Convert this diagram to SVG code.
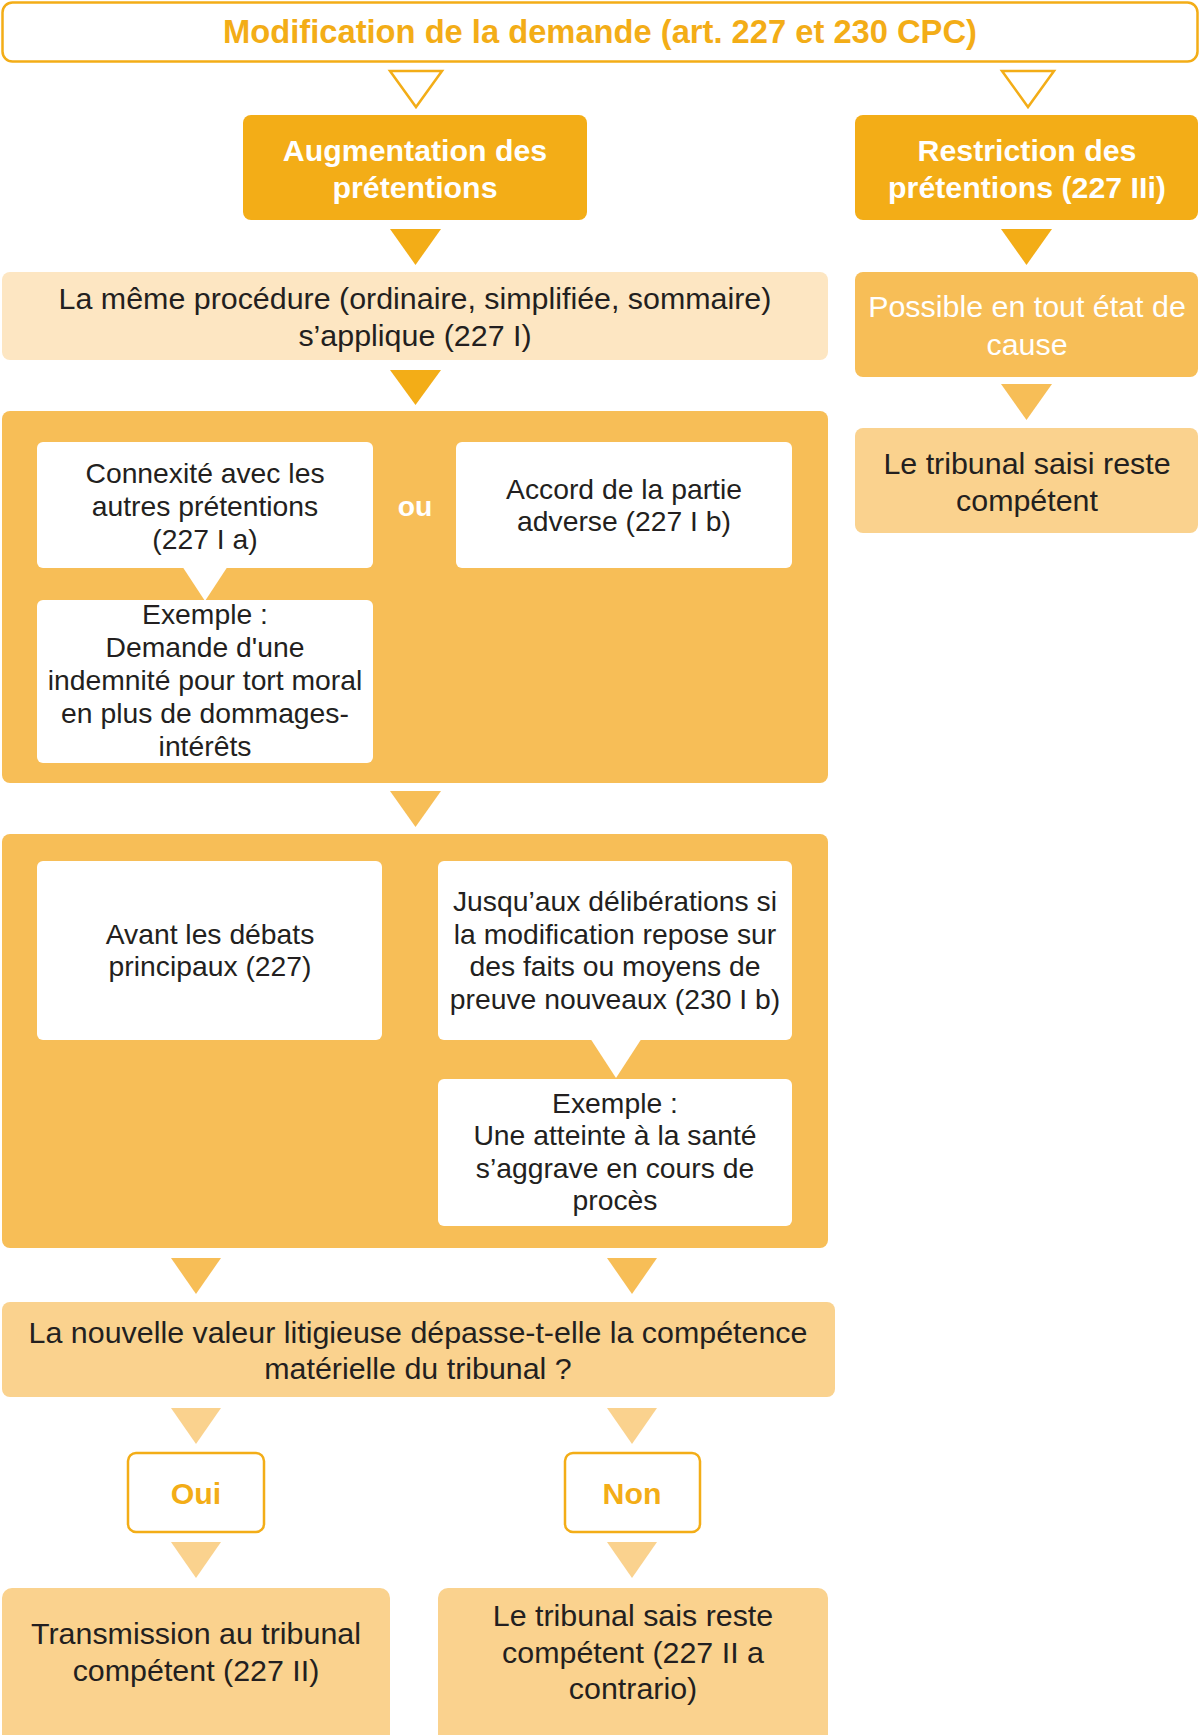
<svg xmlns="http://www.w3.org/2000/svg" width="1200" height="1735" viewBox="0 0 1200 1735">
<style>
text{font-family:"Liberation Sans",Arial,Helvetica,sans-serif;text-anchor:middle}
.t30{font-size:30.4px;fill:#231f20}
.t28{font-size:28.3px;fill:#231f20}
.w30b{font-size:30.3px;font-weight:bold;fill:#ffffff}
.w30{font-size:30.4px;fill:#ffffff}
.o30b{font-size:30.3px;font-weight:bold;fill:#f3ad17}
.dark{fill:#f3ad17}
.med{fill:#f7be57}
.light{fill:#fad28e}
.pale{fill:#fde6c2}
.white{fill:#ffffff}
.outline{fill:#ffffff;stroke:#f3ad17;stroke-width:2.5}
</style>
<rect width="1200" height="1735" fill="#ffffff"/>

<g id="title">
<rect class="outline" x="2.5" y="2.5" width="1195" height="59" rx="10"/>
<text x="600" y="43" style="font-size:32.7px;font-weight:bold;fill:#f3ad17">Modification de la demande (art. 227 et 230 CPC)</text>
</g>

<g id="connectors">
<polygon class="outline" points="390,71 442,71 416,107"/>
<polygon class="outline" points="1002,71 1054,71 1028,107"/>
<polygon class="dark" points="390,229 441,229 415.5,265"/>
<polygon class="dark" points="1001,229 1052,229 1026.5,265"/>
<polygon class="dark" points="390,370 441,370 415.5,405"/>
<polygon class="med" points="1001,384 1052,384 1026.5,420"/>
<polygon class="med" points="390,791 441,791 415.5,827"/>
<polygon class="med" points="171,1258 221,1258 196,1294"/>
<polygon class="med" points="607,1258 657,1258 632,1294"/>
<polygon class="light" points="171,1408 221,1408 196,1444"/>
<polygon class="light" points="607,1408 657,1408 632,1444"/>
<polygon class="light" points="171,1542 221,1542 196,1578"/>
<polygon class="light" points="607,1542 657,1542 632,1578"/>
</g>

<g id="augmentation">
<rect class="dark" x="243" y="115" width="344" height="105" rx="8"/>
<text class="w30b" x="415" y="161">Augmentation des</text>
<text class="w30b" x="415" y="198">prétentions</text>
</g>

<g id="restriction">
<rect class="dark" x="855" y="115" width="343" height="105" rx="8"/>
<text class="w30b" x="1027" y="161">Restriction des</text>
<text class="w30b" x="1027" y="198">prétentions (227 IIi)</text>
</g>

<g id="meme-procedure">
<rect class="pale" x="2" y="272" width="826" height="88" rx="8"/>
<text class="t30" x="415" y="309">La même procédure (ordinaire, simplifiée, sommaire)</text>
<text class="t30" x="415" y="346">s’applique (227 I)</text>
</g>

<g id="possible">
<rect class="med" x="855" y="272" width="343" height="105" rx="8"/>
<text class="w30" x="1027" y="317">Possible en tout état de</text>
<text class="w30" x="1027" y="355">cause</text>
</g>

<g id="tribunal-saisi">
<rect class="light" x="855" y="428" width="343" height="105" rx="8"/>
<text class="t30" x="1027" y="474">Le tribunal saisi reste</text>
<text class="t30" x="1027" y="511">compétent</text>
</g>

<g id="conditions">
<rect class="med" x="2" y="411" width="826" height="372" rx="8"/>
<g id="connexite">
<rect class="white" x="37" y="442" width="336" height="126" rx="6"/>
<text class="t28" x="205" y="483">Connexité avec les</text>
<text class="t28" x="205" y="516">autres prétentions</text>
<text class="t28" x="205" y="549">(227 I a)</text>
</g>
<polygon class="white" points="182,566 228,566 205,601"/>
<g id="exemple1">
<rect class="white" x="37" y="600" width="336" height="163" rx="6"/>
<text class="t28" x="205" y="624">Exemple :</text>
<text class="t28" x="205" y="657">Demande d'une</text>
<text class="t28" x="205" y="690">indemnité pour tort moral</text>
<text class="t28" x="205" y="723">en plus de dommages-</text>
<text class="t28" x="205" y="756">intérêts</text>
</g>
<text x="415" y="516" style="font-size:28.3px;font-weight:bold;fill:#ffffff">ou</text>
<g id="accord">
<rect class="white" x="456" y="442" width="336" height="126" rx="6"/>
<text class="t28" x="624" y="499">Accord de la partie</text>
<text class="t28" x="624" y="531">adverse (227 I b)</text>
</g>
</g>

<g id="delais">
<rect class="med" x="2" y="834" width="826" height="414" rx="8"/>
<g id="avant">
<rect class="white" x="37" y="861" width="345" height="179" rx="6"/>
<text class="t28" x="210" y="944">Avant les débats</text>
<text class="t28" x="210" y="976">principaux (227)</text>
</g>
<g id="jusqu-aux">
<rect class="white" x="438" y="861" width="354" height="179" rx="6"/>
<text class="t28" x="615" y="911">Jusqu’aux délibérations si</text>
<text class="t28" x="615" y="944">la modification repose sur</text>
<text class="t28" x="615" y="976">des faits ou moyens de</text>
<text class="t28" x="615" y="1009">preuve nouveaux (230 I b)</text>
</g>
<polygon class="white" points="590,1038 642,1038 616,1078"/>
<g id="exemple2">
<rect class="white" x="438" y="1079" width="354" height="147" rx="6"/>
<text class="t28" x="615" y="1113">Exemple :</text>
<text class="t28" x="615" y="1145">Une atteinte à la santé</text>
<text class="t28" x="615" y="1178">s’aggrave en cours de</text>
<text class="t28" x="615" y="1210">procès</text>
</g>
</g>

<g id="question">
<rect class="light" x="2" y="1302" width="833" height="95" rx="8"/>
<text class="t30" x="418" y="1343">La nouvelle valeur litigieuse dépasse-t-elle la compétence</text>
<text class="t30" x="418" y="1379">matérielle du tribunal ?</text>
</g>

<g id="oui">
<rect class="outline" x="128" y="1453" width="136" height="79" rx="8"/>
<text class="o30b" x="196" y="1504">Oui</text>
</g>

<g id="non">
<rect class="outline" x="565" y="1453" width="135" height="79" rx="8"/>
<text class="o30b" x="632" y="1504">Non</text>
</g>

<g id="transmission">
<rect class="light" x="2" y="1588" width="388" height="160" rx="10"/>
<text class="t30" x="196" y="1644">Transmission au tribunal</text>
<text class="t30" x="196" y="1681">compétent (227 II)</text>
</g>

<g id="reste-competent">
<rect class="light" x="438" y="1588" width="390" height="160" rx="10"/>
<text class="t30" x="633" y="1626">Le tribunal sais reste</text>
<text class="t30" x="633" y="1663">compétent (227 II a</text>
<text class="t30" x="633" y="1699">contrario)</text>
</g>
</svg>
